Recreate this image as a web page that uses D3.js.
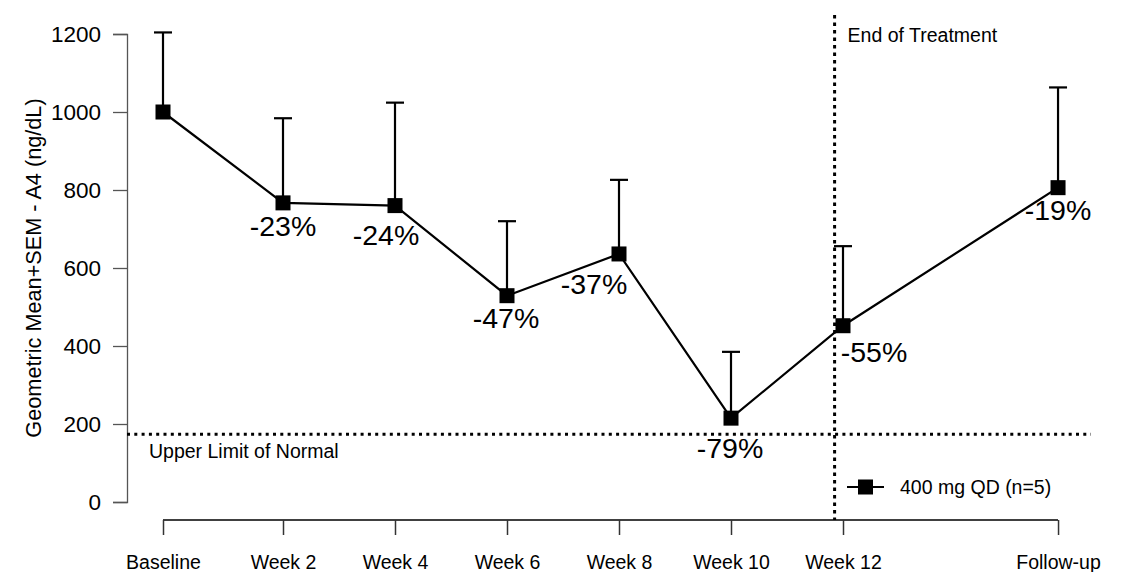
<!DOCTYPE html>
<meta charset="utf-8">
<style>
body { margin: 0; background: #fff; }
text { font-family: "Liberation Sans", Arial, sans-serif; fill: #000; }
</style>
<svg width="1122" height="572"></svg>
<script src="https://d3js.org/d3.v7.min.js"></script>
<script>

// visits (x position in weeks), geometric means and mean+SEM
var visits = ["Baseline", "Week 2", "Week 4", "Week 6", "Week 8", "Week 10", "Week 12", "Follow-up"];
var visitWeeks = [-1 / 7, 2, 4, 6, 8, 10, 12, 15.84];
var geoMean = [1000, 767, 760, 529, 636, 215, 452, 806];
var meanPlusSem = [1204, 984, 1024, 720, 826, 385, 656, 1063];
var pctChange = [null, "-23%", "-24%", "-47%", "-37%", "-79%", "-55%", "-19%"];
var yTicks = [0, 200, 400, 600, 800, 1000, 1200];
var upperLimitNormal = 174;
var endOfTreatmentWeek = 11.85;
var seriesName = "400 mg QD (n=5)";

// label nudges (px) for the percent annotations
var pctNudge = [null, [0, 33], [-9, 39], [-1, 32], [-25, 40], [-1, 40], [31, 36], [0, 32]];

var svg = d3.select("svg");

var x = d3.scaleLinear().domain([0, 12]).range([171, 843]);
var y = d3.scaleLinear().domain([0, 1200]).range([502, 34]);

var data = visits.map(function(v, i) {
  return { label: v, w: visitWeeks[i], mean: geoMean[i], upper: meanPlusSem[i], pct: pctChange[i], nudge: pctNudge[i] };
});

// Y axis
var yAxis = svg.append("g")
    .attr("transform", "translate(127,0)")
    .call(d3.axisLeft(y).tickValues(yTicks).tickSize(14).tickPadding(12).tickFormat(d3.format("d")));
yAxis.select(".domain").attr("stroke", "#555").attr("stroke-width", 1.3);
yAxis.selectAll(".tick line").attr("stroke", "#555").attr("stroke-width", 1.3);
yAxis.selectAll(".tick text")
    .style("font-family", "Liberation Sans, Arial, sans-serif")
    .style("font-size", "22.5px")
    .attr("fill", "#000");

svg.append("text")
    .attr("transform", "translate(41," + y(600) + ") rotate(-90)")
    .attr("text-anchor", "middle")
    .style("font-size", "21.7px")
    .text("Geometric Mean+SEM - A4 (ng/dL)");

// X axis
var xAxis = svg.append("g")
    .attr("transform", "translate(0,520)")
    .call(d3.axisBottom(x).tickValues(visitWeeks).tickSize(15).tickPadding(20)
      .tickFormat(function(d, i) { return visits[i]; }))
    .call(function(g) { g.select(".domain").attr("d", "M" + x(visitWeeks[0]) + ",0H" + x(visitWeeks[visitWeeks.length - 1])); });
xAxis.select(".domain").attr("stroke", "#000").attr("stroke-width", 1.5);
xAxis.selectAll(".tick line").attr("stroke", "#333").attr("stroke-width", 1.5);
xAxis.selectAll(".tick text")
    .style("font-family", "Liberation Sans, Arial, sans-serif")
    .style("font-size", "19.5px")
    .attr("fill", "#000");

// reference lines
svg.append("line")
    .attr("x1", 127).attr("x2", 1091)
    .attr("y1", y(upperLimitNormal)).attr("y2", y(upperLimitNormal))
    .attr("stroke", "#000").attr("stroke-width", 3)
    .attr("stroke-dasharray", "3,4.3");

svg.append("line")
    .attr("x1", x(endOfTreatmentWeek)).attr("x2", x(endOfTreatmentWeek))
    .attr("y1", 15).attr("y2", 520)
    .attr("stroke", "#000").attr("stroke-width", 3)
    .attr("stroke-dasharray", "3.5,4");

svg.append("text")
    .attr("x", x(endOfTreatmentWeek) + 13).attr("y", 42)
    .style("font-size", "19.5px")
    .text("End of Treatment");

svg.append("text")
    .attr("x", 149).attr("y", 458)
    .style("font-size", "19.5px")
    .text("Upper Limit of Normal");

// error bars
var eb = svg.append("g").attr("stroke", "#000").attr("stroke-width", 2.2);
eb.selectAll(".stem")
  .data(data)
  .enter().append("line")
    .attr("x1", function(d) { return x(d.w); })
    .attr("x2", function(d) { return x(d.w); })
    .attr("y1", function(d) { return y(d.mean); })
    .attr("y2", function(d) { return y(d.upper); });
eb.selectAll(".cap")
  .data(data)
  .enter().append("line")
    .attr("x1", function(d) { return x(d.w) - 9; })
    .attr("x2", function(d) { return x(d.w) + 9; })
    .attr("y1", function(d) { return y(d.upper); })
    .attr("y2", function(d) { return y(d.upper); });

// mean line
svg.append("path")
    .datum(data)
    .attr("fill", "none")
    .attr("stroke", "#000")
    .attr("stroke-width", 2.2)
    .attr("d", d3.line().x(function(d) { return x(d.w); }).y(function(d) { return y(d.mean); }));

var sq = 15;
svg.selectAll(".pt")
  .data(data)
  .enter().append("rect")
    .attr("x", function(d) { return x(d.w) - sq / 2; })
    .attr("y", function(d) { return y(d.mean) - sq / 2; })
    .attr("width", sq).attr("height", sq)
    .attr("fill", "#000");

svg.selectAll(".pct")
  .data(data.filter(function(d) { return d.pct; }))
  .enter().append("text")
    .attr("x", function(d) { return x(d.w) + d.nudge[0]; })
    .attr("y", function(d) { return y(d.mean) + d.nudge[1]; })
    .attr("text-anchor", "middle")
    .style("font-size", "28.5px")
    .text(function(d) { return d.pct; });

// legend
var lg = svg.append("g").attr("transform", "translate(847,487)");
lg.append("line").attr("x1", 0).attr("x2", 37).attr("y1", 0).attr("y2", 0)
    .attr("stroke", "#000").attr("stroke-width", 2.2);
lg.append("rect").attr("x", 18.5 - sq / 2).attr("y", -sq / 2).attr("width", sq).attr("height", sq).attr("fill", "#000");
lg.append("text").attr("x", 53).attr("y", 7).style("font-size", "19.5px").text(seriesName);

</script>
